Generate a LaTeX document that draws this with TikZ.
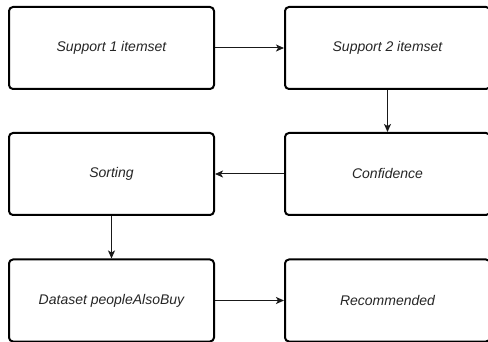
\documentclass[tikz,border=0pt]{standalone}
\usepackage{fontspec}
\setmainfont{Liberation Sans}
\usetikzlibrary{arrows.meta}
\begin{document}
\begin{tikzpicture}[x=1pt,y=-1pt,
  stepbox/.style={draw=black,line width=2pt,rounded corners=4pt,minimum width=205pt,minimum height=82pt,inner sep=0pt,fill=white,font=\fontsize{14}{17}\selectfont\itshape,text=black!85},
  conn/.style={draw=black!90,line width=1pt,-{Stealth[length=8pt,width=7pt,inset=2pt]}}]
\useasboundingbox (0,0) rectangle (488,342);
\node[stepbox] (s1) at (111.5,48) {Support 1 itemset};
\node[stepbox] (s2) at (387.5,48) {Support 2 itemset};
\node[stepbox] (conf) at (387.5,174) {Confidence};
\node[stepbox] (sort) at (111.5,174) {Sorting};
\node[stepbox] (ds) at (111.5,300.5) {Dataset peopleAlsoBuy};
\node[stepbox] (rec) at (387.5,300.5) {Recommended};
\draw[conn] (s1) -- (s2);
\draw[conn] (s2) -- (conf);
\draw[conn] (conf) -- (sort);
\draw[conn] (sort) -- (ds);
\draw[conn] (ds) -- (rec);
\end{tikzpicture}
\end{document}
